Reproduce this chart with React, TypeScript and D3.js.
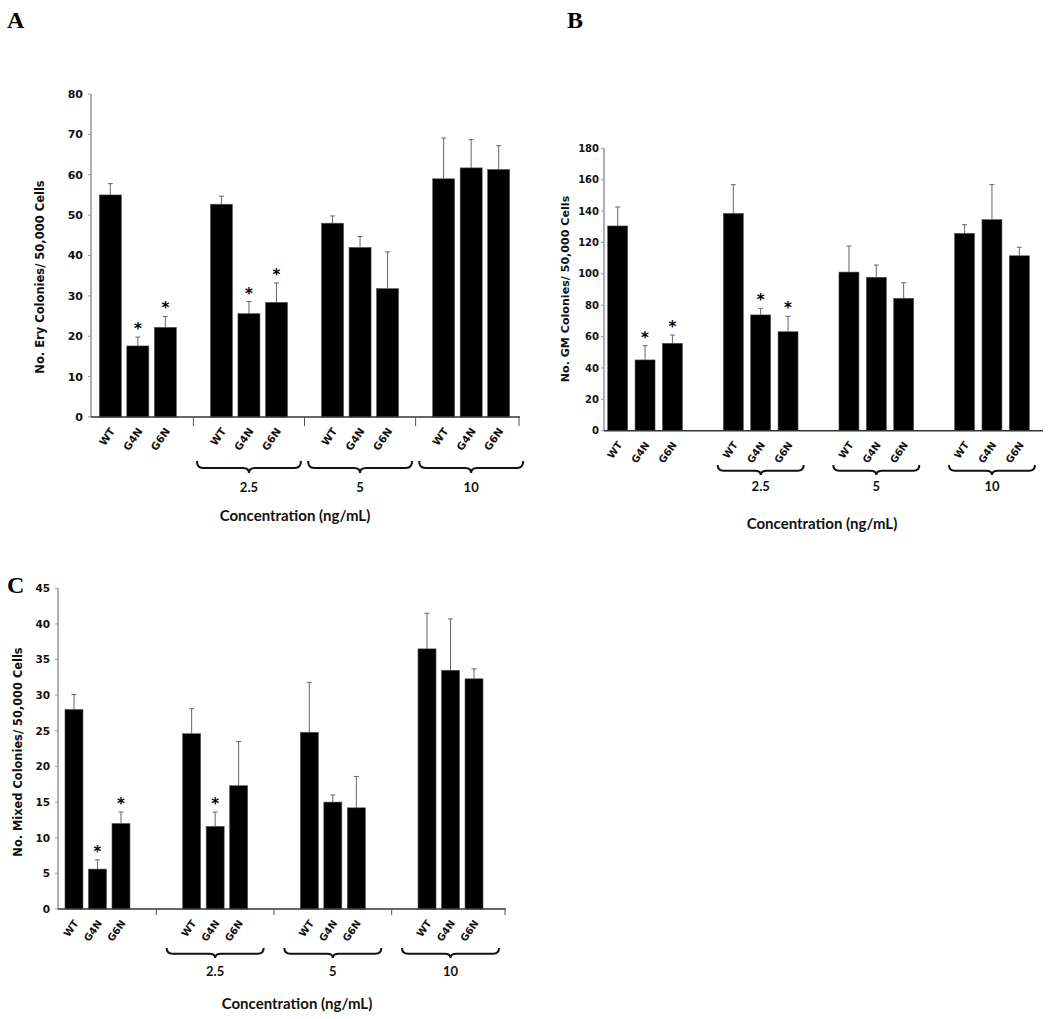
import React from "react";
import * as d3 from "d3";

// ---------- data ----------
const categories = ["WT", "G4N", "G6N"];
const concentrations = ["", "2.5", "5", "10"];

// Panel A: erythroid colonies
const eryMeans = [55.0, 17.6, 22.2, 52.7, 25.6, 28.4, 48.0, 42.0, 31.8, 59.0, 61.7, 61.3];
const eryErrors = [2.8, 2.2, 2.7, 2.0, 3.0, 4.8, 1.8, 2.7, 9.1, 10.1, 7.0, 5.9];
const erySig = [0, 1, 1, 0, 1, 1, 0, 0, 0, 0, 0, 0];
const eryTicks = [0, 10, 20, 30, 40, 50, 60, 70, 80];

// Panel B: GM colonies
const gmMeans = [130.5, 45.1, 55.7, 138.5, 73.8, 63.1, 101.1, 97.8, 84.4, 125.8, 134.5, 111.5];
const gmErrors = [12.1, 9.1, 5.3, 18.3, 4.2, 9.8, 16.6, 7.8, 9.9, 5.5, 22.3, 5.4];
const gmSig = [0, 1, 1, 0, 1, 1, 0, 0, 0, 0, 0, 0];
const gmTicks = [0, 20, 40, 60, 80, 100, 120, 140, 160, 180];

// Panel C: mixed colonies
const mixedMeans = [28.0, 5.6, 12.0, 24.6, 11.6, 17.3, 24.8, 15.0, 14.2, 36.5, 33.5, 32.3];
const mixedErrors = [2.1, 1.3, 1.6, 3.5, 2.0, 6.2, 7.0, 1.0, 4.4, 5.0, 7.2, 1.4];
const mixedSig = [0, 1, 1, 0, 1, 0, 0, 0, 0, 0, 0, 0];
const mixedTicks = [0, 5, 10, 15, 20, 25, 30, 35, 40, 45];

const xTitle = "Concentration (ng/mL)";

// ---------- layout ----------
const LABEL_FONT = "'DejaVu Sans', Verdana, sans-serif";
const TITLE_FONT = "Lato, 'Open Sans', sans-serif";

type Layout = {
  letter: string; letterX: number; letterY: number;
  x0: number; x1: number; pi: number; po: number; ipi: number; ipo: number;
  yTop: number; yBottom: number; axisEnd: number;
  tickFont: number; tickGap: number; catFont: number;
  yTitle: string; yTitleX: number; yTitleY: number; yTitleFont: number;
  xTitleX: number; xTitleY: number;
  braceTop: number; braceTip: number; braceW: number; groupLabelY: number;
  sepTicks: boolean; sepLen: number;
};

const layoutA: Layout = {
  letter: "A", letterX: 7, letterY: 28,
  x0: 91, x1: 518, pi: 0.257, po: 0.05, ipi: 0.2, ipo: 0.1,
  yTop: 94, yBottom: 417, axisEnd: 520,
  tickFont: 11, tickGap: 8, catFont: 10.5,
  yTitle: "No. Ery Colonies/ 50,000 Cells", yTitleX: 40, yTitleY: 277, yTitleFont: 11.5,
  xTitleX: 295, xTitleY: 521,
  braceTop: 461, braceTip: 473, braceW: 104, groupLabelY: 492,
  sepTicks: true, sepLen: 9,
};

const layoutB: Layout = {
  letter: "B", letterX: 567, letterY: 28,
  x0: 604, x1: 1033, pi: 0.29, po: 0, ipi: 0.27, ipo: 0.135,
  yTop: 148.3, yBottom: 430.7, axisEnd: 1043,
  tickFont: 10, tickGap: 5, catFont: 10,
  yTitle: "No. GM Colonies/ 50,000 Cells", yTitleX: 565, yTitleY: 289, yTitleFont: 11.1,
  xTitleX: 822, xTitleY: 529,
  braceTop: 465, braceTip: 475, braceW: 86, groupLabelY: 491,
  sepTicks: false, sepLen: 0,
};

const layoutC: Layout = {
  letter: "C", letterX: 7, letterY: 593,
  x0: 58, x1: 490, pi: 0.401, po: 0.036, ipi: 0.234, ipo: 0.117,
  yTop: 588.3, yBottom: 909, axisEnd: 506,
  tickFont: 10.5, tickGap: 8, catFont: 10,
  yTitle: "No. Mixed Colonies/ 50,000 Cells", yTitleX: 18, yTitleY: 752, yTitleFont: 11.4,
  xTitleX: 297, xTitleY: 1009,
  braceTop: 948, braceTip: 958, braceW: 97, groupLabelY: 976,
  sepTicks: true, sepLen: 6,
};

function bracePath(xm: number, w: number, yTop: number, yTip: number) {
  const x0 = xm - w / 2;
  const x1 = xm + w / 2;
  const yMid = yTop + (yTip - yTop) * 0.58;
  const r = 6;
  const p = d3.path();
  p.moveTo(x0, yTop);
  p.quadraticCurveTo(x0, yMid, x0 + r, yMid);
  p.lineTo(xm - r, yMid);
  p.quadraticCurveTo(xm, yMid, xm, yTip);
  p.quadraticCurveTo(xm, yMid, xm + r, yMid);
  p.lineTo(x1 - r, yMid);
  p.quadraticCurveTo(x1, yMid, x1, yTop);
  return p.toString();
}

function Panel({ L, means, errors, sig, ticks }: { L: Layout; means: number[]; errors: number[]; sig: number[]; ticks: number[] }) {
  const y = d3.scaleLinear().domain([0, ticks[ticks.length - 1]]).range([L.yBottom, L.yTop]);
  const outer = d3.scaleBand<string>().domain(concentrations.map((_, i) => String(i))).range([L.x0, L.x1]).paddingInner(L.pi).paddingOuter(L.po);
  const inner = d3.scaleBand<string>().domain(categories).range([0, outer.bandwidth()]).paddingInner(L.ipi).paddingOuter(L.ipo);
  const bars = means.map((m, i) => {
    const g = Math.floor(i / categories.length);
    const c = categories[i % categories.length];
    const x = (outer(String(g)) as number) + (inner(c) as number);
    return { g, c, x, w: inner.bandwidth(), m, e: errors[i], s: sig[i] };
  });
  const sepXs: number[] = [];
  for (let g = 0; g < concentrations.length - 1; g++) {
    const end = (outer(String(g)) as number) + outer.bandwidth();
    const start = outer(String(g + 1)) as number;
    sepXs.push((end + start) / 2);
  }
  sepXs.push(L.axisEnd - 1);
  return (
    <g>
      <text x={L.letterX} y={L.letterY} fontFamily="'Liberation Serif', 'Times New Roman', serif" fontWeight="bold" fontSize={24}>{L.letter}</text>
      {/* y axis */}
      <line x1={L.x0} x2={L.x0} y1={L.yTop} y2={L.yBottom} stroke="#7a7a7a" strokeWidth={1.2} />
      {ticks.map((t) => (
        <g key={t}>
          <line x1={L.x0 - 3} x2={L.x0} y1={y(t)} y2={y(t)} stroke="#999" strokeWidth={1} />
          <text x={L.x0 - L.tickGap} y={y(t)} dy="0.36em" textAnchor="end" fontFamily={LABEL_FONT} fontWeight="bold" fontSize={L.tickFont} fill="#111">{t}</text>
        </g>
      ))}
      <text transform={`translate(${L.yTitleX},${L.yTitleY}) rotate(-90)`} textAnchor="middle" dy="0.36em" fontFamily={LABEL_FONT} fontWeight="bold" fontSize={L.yTitleFont} fill="#111">{L.yTitle}</text>
      {/* bars */}
      {bars.map((b, i) => (
        <g key={i}>
          <line x1={b.x + b.w / 2} x2={b.x + b.w / 2} y1={y(b.m)} y2={y(b.m + b.e)} stroke="#666" strokeWidth={1} />
          <line x1={b.x + b.w / 2 - 2.5} x2={b.x + b.w / 2 + 2.5} y1={y(b.m + b.e)} y2={y(b.m + b.e)} stroke="#666" strokeWidth={1} />
          <rect x={b.x} y={y(b.m)} width={b.w} height={L.yBottom - y(b.m)} fill="#000" stroke="#555" strokeWidth={0.6} />
          {b.s ? (
            <text x={b.x + b.w / 2} y={y(b.m + b.e) - 3} textAnchor="middle" fontFamily={LABEL_FONT} fontWeight="bold" fontSize={15} fill="#000">*</text>
          ) : null}
          <text transform={`translate(${b.x + b.w / 2 + 2},${L.yBottom + 12}) rotate(-55)`} textAnchor="end" dy="0.36em" fontFamily={LABEL_FONT} fontWeight="bold" fontSize={L.catFont} fill="#111">{b.c}</text>
        </g>
      ))}
      {/* x axis */}
      <line x1={L.x0} x2={L.axisEnd} y1={L.yBottom} y2={L.yBottom} stroke="#333" strokeWidth={1.6} />
      {L.sepTicks && sepXs.map((sx, i) => (
        <line key={i} x1={sx} x2={sx} y1={L.yBottom} y2={L.yBottom + L.sepLen} stroke="#555" strokeWidth={1} />
      ))}
      {/* braces and group labels */}
      {concentrations.map((c, g) => {
        if (!c) return null;
        const xm = (outer(String(g)) as number) + outer.bandwidth() / 2;
        return (
          <g key={g}>
            <path d={bracePath(xm, L.braceW, L.braceTop, L.braceTip)} fill="none" stroke="#111" strokeWidth={2} />
            <text x={xm} y={L.groupLabelY} textAnchor="middle" fontFamily={TITLE_FONT} fontWeight="bold" fontSize={13} fill="#111">{c}</text>
          </g>
        );
      })}
      <text x={L.xTitleX} y={L.xTitleY} textAnchor="middle" fontFamily={TITLE_FONT} fontWeight="bold" fontSize={15} fill="#111">{xTitle}</text>
    </g>
  );
}

export default function App() {
  return (
    <svg width={1050} height={1019} viewBox="0 0 1050 1019" style={{ position: "absolute", left: 0, top: 0, display: "block", background: "#fff" }}>
      <rect x={0} y={0} width={1050} height={1019} fill="#fff" />
      <Panel L={layoutA} means={eryMeans} errors={eryErrors} sig={erySig} ticks={eryTicks} />
      <Panel L={layoutB} means={gmMeans} errors={gmErrors} sig={gmSig} ticks={gmTicks} />
      <Panel L={layoutC} means={mixedMeans} errors={mixedErrors} sig={mixedSig} ticks={mixedTicks} />
    </svg>
  );
}
